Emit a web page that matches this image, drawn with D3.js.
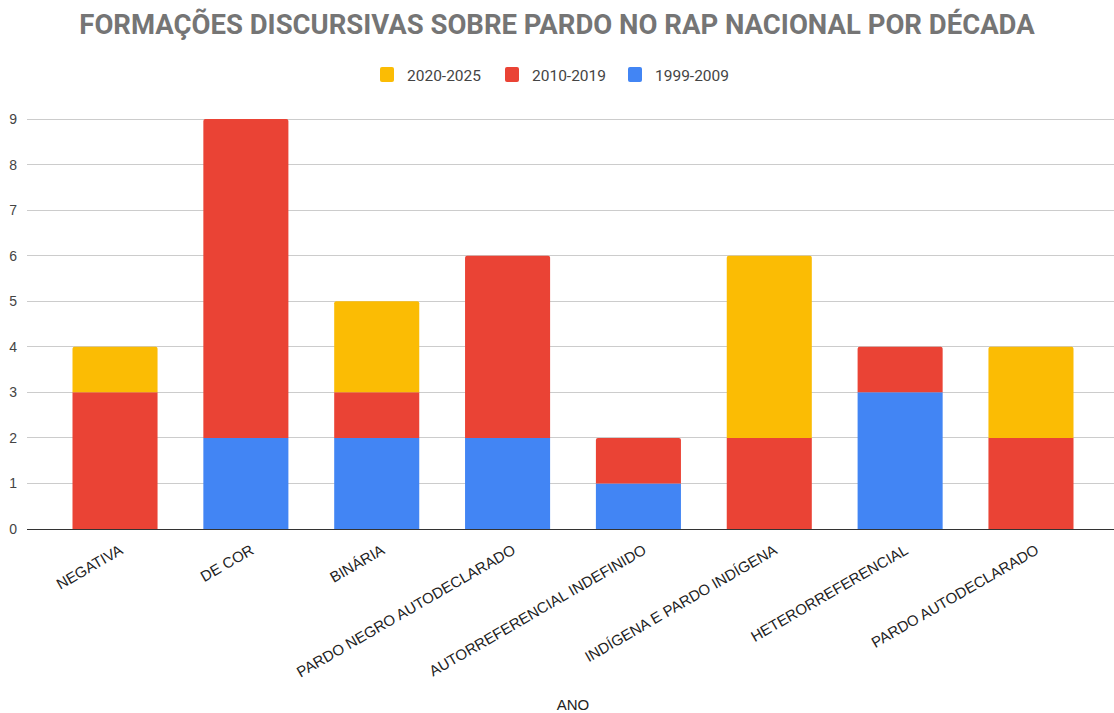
<!DOCTYPE html>
<html><head><meta charset="utf-8">
<script src="https://cdn.jsdelivr.net/npm/d3@7"></script>
<style>body{margin:0;background:#fff}svg{display:block}</style>
</head><body>
<script>
const categories = ["NEGATIVA","DE COR","BINÁRIA","PARDO NEGRO AUTODECLARADO","AUTORREFERENCIAL INDEFINIDO","INDÍGENA E PARDO INDÍGENA","HETERORREFERENCIAL","PARDO AUTODECLARADO"];
const s1999 = [0,2,2,2,1,0,3,0];
const s2010 = [3,7,1,4,1,2,1,2];
const s2020 = [1,0,2,0,0,4,0,2];
const seriesNames = ["1999-2009","2010-2019","2020-2025"];
const legendOrder = ["2020-2025","2010-2019","1999-2009"];
const yTicks = [0,1,2,3,4,5,6,7,8,9];
const colors = {"1999-2009":"#4285f4","2010-2019":"#ea4335","2020-2025":"#fbbc04"};

const W=1114,H=713;
const FONT="Liberation Sans, Arial, sans-serif";
const svg=d3.select("body").append("svg").attr("width",W).attr("height",H);
const table = categories.map((c,i)=>({cat:c,"1999-2009":s1999[i],"2010-2019":s2010[i],"2020-2025":s2020[i]}));
const stack = d3.stack().keys(seriesNames)(table);
const totals = table.map(d=>d3.sum(seriesNames,k=>d[k]));

const x=d3.scaleBand().domain(categories).range([49.6,1096.4]).paddingInner(0.35).paddingOuter(0.175);
const y=d3.scaleLinear().domain([0,9]).range([529,119]);

// grid
svg.append("g").selectAll("line").data(yTicks.filter(d=>d>0)).join("line")
  .attr("x1",27).attr("x2",1114).attr("y1",d=>y(d)).attr("y2",d=>y(d))
  .attr("stroke","#cccccc").attr("stroke-width",1).attr("shape-rendering","crispEdges");
svg.append("g").selectAll("text").data(yTicks).join("text")
  .attr("x",17).attr("y",d=>y(d)+5).attr("text-anchor","end")
  .attr("font-family",FONT).attr("font-size",14).attr("fill","#444")
  .text(d=>d);

// bars (top segment with slightly rounded top corners)
function segPath(x0,w,yTop,yBot,r){
  if(r<=0) return `M${x0},${yBot}V${yTop}H${x0+w}V${yBot}Z`;
  return `M${x0},${yBot}V${yTop+r}Q${x0},${yTop} ${x0+r},${yTop}H${x0+w-r}Q${x0+w},${yTop} ${x0+w},${yTop+r}V${yBot}Z`;
}
svg.append("g").selectAll("g").data(stack).join("g").attr("fill",d=>colors[d.key])
  .selectAll("path").data(d=>d.map((v,i)=>({v,i}))).join("path")
  .attr("d",({v,i})=>{
    if(v[1]-v[0]<=0) return null;
    const isTop = v[1]===totals[i];
    return segPath(x(v.data.cat),x.bandwidth(),y(v[1]),y(v[0]),isTop?2:0);
  });

// baseline
svg.append("line").attr("x1",27).attr("x2",1114).attr("y1",y(0)).attr("y2",y(0))
  .attr("stroke","#333").attr("stroke-width",1).attr("shape-rendering","crispEdges");

// x labels
svg.append("g").selectAll("text").data(categories).join("text")
  .attr("transform",d=>`translate(${x(d)+x.bandwidth()/2+9},${553}) rotate(-30)`)
  .attr("text-anchor","end")
  .attr("font-family",FONT).attr("font-size",15).attr("fill","#222")
  .text(d=>d);

// axis title
svg.append("text").attr("x",573).attr("y",710).attr("text-anchor","middle")
  .attr("font-family",FONT).attr("font-size",15).attr("fill","#222").text("ANO");

// title
svg.append("text").attr("x",557).attr("y",34).attr("text-anchor","middle")
  .attr("font-family","Roboto, sans-serif").attr("font-weight","bold").attr("font-size",27.5).attr("fill","#757575")
  .text("FORMAÇÕES DISCURSIVAS SOBRE PARDO NO RAP NACIONAL POR DÉCADA");

// legend
const legX=[380,505,628];
const lg=svg.append("g").selectAll("g").data(legendOrder).join("g")
  .attr("transform",(d,i)=>`translate(${legX[i]},67)`);
lg.append("rect").attr("width",14).attr("height",15).attr("rx",2).attr("fill",d=>colors[d]);
lg.append("text").attr("x",27).attr("y",13.5).attr("font-family","Roboto, sans-serif")
  .attr("font-size",15.5).attr("fill","#444").text(d=>d);
</script>
</body></html>
